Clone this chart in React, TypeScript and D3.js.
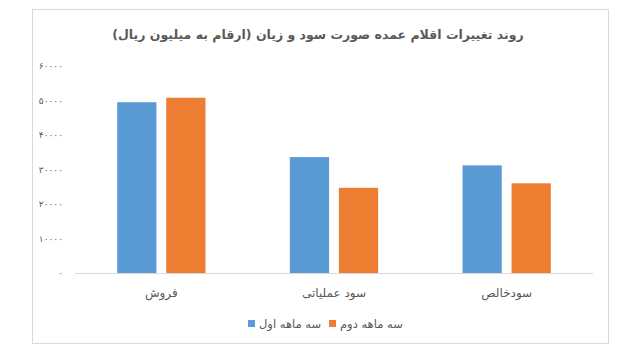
import { useEffect, useRef } from 'react';
import * as d3 from 'd3';

const title = 'روند تغییرات اقلام عمده صورت سود و زیان (ارقام به میلیون ریال)';
const categories = ['فروش', 'سود عملیاتی', 'سودخالص'];
const seriesNames = ['سه ماهه اول', 'سه ماهه دوم'];
const firstQuarter = [49500, 33600, 31200];
const secondQuarter = [50800, 24700, 26000];
const yTicks = [0, 10000, 20000, 30000, 40000, 50000, 60000];
const colors = ['#5b9bd5', '#ed7d31'];

const W = 624;
const H = 362;

const toPersian = (n: number) =>
  String(n).replace(/\d/g, d => '۰۱۲۳۴۵۶۷۸۹'[+d]);

export default function App() {
  const svgRef = useRef<SVGSVGElement>(null);

  useEffect(() => {
    if (!svgRef.current) return;
    const svg = d3.select(svgRef.current);
    svg.selectAll('*').remove();

    const font = "'DejaVu Sans', sans-serif";
    const textColor = '#595959';

    // outer frame
    svg.append('rect')
      .attr('x', 32.5).attr('y', 9.5)
      .attr('width', 576).attr('height', 334)
      .attr('fill', '#fff')
      .attr('stroke', '#d9d9d9');

    svg.append('text')
      .attr('x', 318).attr('y', 39)
      .attr('text-anchor', 'middle')
      .attr('direction', 'rtl')
      .style('font-family', font)
      .style('font-size', '12.5px')
      .style('font-weight', 'bold')
      .style('fill', textColor)
      .text(title);

    const plot = { left: 75, right: 593, top: 66, bottom: 273 };

    const y = d3.scaleLinear().domain([0, 60000]).range([plot.bottom, plot.top]);
    const x0 = d3.scaleBand<string>().domain(categories).range([plot.left, plot.right]).padding(0);
    const x1 = d3.scaleBand<string>().domain(seriesNames)
      .range([0, x0.bandwidth()])
      .paddingInner(0.2)
      .paddingOuter(0.86);

    const series = [firstQuarter, secondQuarter];

    // y tick labels
    svg.append('g').selectAll('text')
      .data(yTicks)
      .enter().append('text')
      .attr('x', 63)
      .attr('y', d => y(d))
      .attr('dy', '0.35em')
      .attr('text-anchor', 'end')
      .style('font-family', font)
      .style('font-size', '9px')
      .style('fill', textColor)
      .text(d => toPersian(d));

    // bars
    const groups = svg.append('g').selectAll('g')
      .data(categories)
      .enter().append('g')
      .attr('transform', d => `translate(${x0(d)},0)`);

    groups.selectAll('rect')
      .data((_, i) => seriesNames.map((s, j) => ({ s, j, v: series[j][i] })))
      .enter().append('rect')
      .attr('x', d => x1(d.s)!)
      .attr('y', d => y(d.v))
      .attr('width', x1.bandwidth())
      .attr('height', d => plot.bottom - y(d.v))
      .attr('fill', d => colors[d.j]);

    // baseline
    svg.append('line')
      .attr('x1', plot.left).attr('x2', plot.right)
      .attr('y1', plot.bottom + 0.5).attr('y2', plot.bottom + 0.5)
      .attr('stroke', '#d9d9d9');

    // category labels
    svg.append('g').selectAll('text')
      .data(categories)
      .enter().append('text')
      .attr('x', d => x0(d)! + x0.bandwidth() / 2)
      .attr('y', 297)
      .attr('text-anchor', 'middle')
      .attr('direction', 'rtl')
      .style('font-family', font)
      .style('font-size', '12px')
      .style('fill', textColor)
      .text(d => d);

    // legend: square, then label to its right
    const legendItems = [
      { name: seriesNames[0], color: colors[0], sq: 248 },
      { name: seriesNames[1], color: colors[1], sq: 329 },
    ];
    const lg = svg.append('g');
    lg.selectAll('rect')
      .data(legendItems)
      .enter().append('rect')
      .attr('x', d => d.sq).attr('y', 320)
      .attr('width', 7).attr('height', 7)
      .attr('fill', d => d.color);
    lg.selectAll('text')
      .data(legendItems)
      .enter().append('text')
      .attr('x', d => d.sq + 11).attr('y', 328)
      .attr('text-anchor', 'end')
      .attr('direction', 'rtl')
      .style('font-family', font)
      .style('font-size', '11.5px')
      .style('fill', textColor)
      .text(d => d.name);
  }, []);

  return (
    <svg
      ref={svgRef}
      width={W}
      height={H}
      style={{ position: 'absolute', left: 0, top: 0, background: '#fff' }}
    />
  );
}
